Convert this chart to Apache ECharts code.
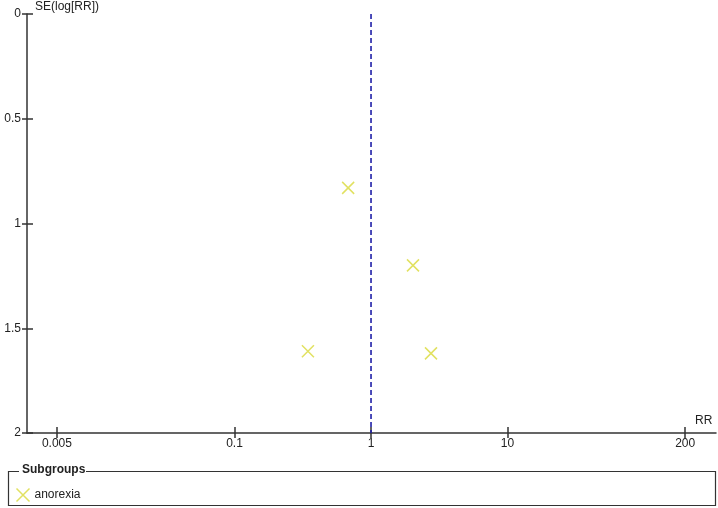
<!DOCTYPE html>
<html>
<head>
<meta charset="utf-8">
<script src="https://cdn.jsdelivr.net/npm/echarts@6/dist/echarts.min.js"></script>
<style>
  html, body { margin: 0; padding: 0; background: #fff; }
  #main { width: 718px; height: 508px; }
</style>
</head>
<body>
<div id="main"></div>
<script>
  // study points: RR and SE(log[RR])
  var studyRR = [0.68, 2.03, 0.345, 2.75];
  var studySE = [0.83, 1.2, 1.61, 1.62];
  var subgroup = 'anorexia';
  // x ticks (RR), y ticks (SE)
  var xTicks = [0.005, 0.1, 1, 10, 200];
  var yMin = 0, yMax = 2, yStep = 0.5;
  var pooledRR = 1;

  var xMin = -2.52, xMax = 2.527; // log10 range of the axis
  var xTickPos = xTicks.map(function (v) { return Math.log10(v); });

  var points = [];
  for (let i = 0; i < studyRR.length; i++) {
    points.push([Math.log10(studyRR[i]), studySE[i]]);
  }

  var axisColor = '#333';
  var txtColor = '#222';
  var markColor = '#d9d93a';
  var xPath = 'path://M0,0L10,10M10,0L0,10';

  var chartDom = document.getElementById('main');
  var myChart = echarts.init(chartDom);
  var option = {
    animation: false,
    textStyle: { fontFamily: 'Liberation Sans, Arial, sans-serif' },
    grid: { left: 27, right: 2, top: 14, bottom: 75 },
    xAxis: [
      {
        type: 'value', min: xMin, max: xMax, position: 'bottom',
        axisLine: { show: true, onZero: false, lineStyle: { color: axisColor, width: 1.5 } },
        axisTick: { show: true, customValues: xTickPos, length: 5, lineStyle: { color: axisColor, width: 1.5 } },
        axisLabel: {
          customValues: xTickPos, margin: 5, color: txtColor, fontSize: 12,
          formatter: function (v) { return String(+Math.pow(10, v).toPrecision(3)); }
        },
        splitLine: { show: false }
      },
      {
        // second axis only for the inner half of the crossing ticks
        type: 'value', min: xMin, max: xMax, position: 'bottom',
        axisLine: { show: false, onZero: false },
        axisTick: { show: true, inside: true, customValues: xTickPos, length: 6, lineStyle: { color: axisColor, width: 1.5 } },
        axisLabel: { show: false },
        splitLine: { show: false }
      }
    ],
    yAxis: [
      {
        type: 'value', min: yMin, max: yMax, interval: yStep, inverse: true, position: 'left',
        axisLine: { show: true, onZero: false, lineStyle: { color: axisColor, width: 1.5 } },
        axisTick: { show: true, length: 5, lineStyle: { color: axisColor, width: 1.5 } },
        axisLabel: { margin: 6, color: txtColor, fontSize: 12 },
        splitLine: { show: false }
      },
      {
        type: 'value', min: yMin, max: yMax, interval: yStep, inverse: true, position: 'left',
        axisLine: { show: false, onZero: false },
        axisTick: { show: true, inside: true, length: 6, lineStyle: { color: axisColor, width: 1.5 } },
        axisLabel: { show: false },
        splitLine: { show: false }
      }
    ],
    legend: {
      left: 9, top: 481,
      itemWidth: 13, itemHeight: 13, itemGap: 4,
      textStyle: { color: txtColor, fontSize: 12 },
      data: [{
        name: subgroup, icon: xPath,
        itemStyle: { color: 'none', borderColor: markColor, borderWidth: 1.5 }
      }]
    },
    series: [
      {
        name: 'pooled',
        type: 'line',
        data: [[Math.log10(pooledRR), yMin], [Math.log10(pooledRR), yMax]],
        symbol: 'none',
        lineStyle: { color: '#1f1fa8', width: 1.6, type: [5, 3] },
        silent: true
      },
      {
        name: subgroup,
        type: 'scatter',
        data: points,
        symbol: xPath,
        symbolSize: 12,
        itemStyle: { color: 'none', borderColor: markColor, borderWidth: 1.5 }
      }
    ],
    graphic: [
      { type: 'text', left: 35, top: 1, style: { text: 'SE(log[RR])', fill: txtColor, font: '12px Liberation Sans, Arial' } },
      { type: 'text', left: 695, top: 415, style: { text: 'RR', fill: txtColor, font: '12px Liberation Sans, Arial' } },
      { type: 'rect', shape: { x: 8.5, y: 471.5, width: 707, height: 34 }, style: { fill: 'none', stroke: axisColor, lineWidth: 1.2 } },
      { type: 'rect', shape: { x: 19, y: 465, width: 67, height: 12 }, style: { fill: '#fff' } },
      { type: 'text', left: 22, top: 464, style: { text: 'Subgroups', fill: txtColor, font: 'bold 12px Liberation Sans, Arial' } }
    ]
  };
  option && myChart.setOption(option);
</script>
</body>
</html>
